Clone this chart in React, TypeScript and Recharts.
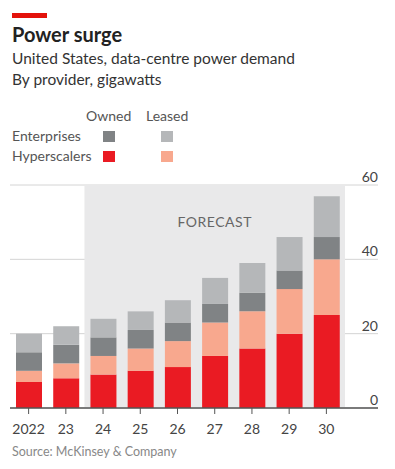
import { Bar, BarChart, CartesianGrid, ReferenceArea, XAxis, YAxis } from "recharts";

const years = ["2022", "23", "24", "25", "26", "27", "28", "29", "30"];
const hyperOwned = [7, 8, 9, 10, 11, 14, 16, 20, 25];
const hyperLeased = [3, 4, 5, 6, 7, 9, 10, 12, 15];
const entOwned = [5, 5, 5, 5, 5, 5, 5, 5, 6];
const entLeased = [5, 5, 5, 5, 6, 7, 8, 9, 11];
const yTicks = [0, 20, 40, 60];

const data = years.map((year, i) => ({
  year,
  hyperOwned: hyperOwned[i],
  hyperLeased: hyperLeased[i],
  entOwned: entOwned[i],
  entLeased: entLeased[i],
}));

const RED = "#ea1b23";
const SALMON = "#f8a88e";
const DARK_GREY = "#808385";
const LIGHT_GREY = "#b5b7b9";
const FONT = "Lato, 'Open Sans', sans-serif";

// labels sit just above their gridline, right-aligned with its end
function RightTick({ y, payload }: any) {
  return (
    <text x={378} y={y} dy={-3} textAnchor="end" fontSize={14} fill="#444" fontFamily={FONT}>
      {payload.value}
    </text>
  );
}

function Swatch({ color }: { color: string }) {
  return <div style={{ width: 12, height: 11, background: color }} />;
}

export default function App() {
  return (
    <div style={{ position: "absolute", left: 0, top: 0, width: 395, height: 469, fontFamily: FONT, background: "#fff" }}>
      <div style={{ position: "absolute", left: 12, top: 13, width: 35, height: 5, background: "#e3120b" }} />
      <div style={{ position: "absolute", left: 12, top: 22, fontSize: 20, fontWeight: 700, color: "#222" }}>
        Power surge
      </div>
      <div style={{ position: "absolute", left: 12, top: 48, fontSize: 15.5, color: "#333", lineHeight: "21px" }}>
        United States, data-centre power demand
        <br />
        By provider, gigawatts
      </div>

      <div style={{ position: "absolute", left: 86, top: 107, fontSize: 14, color: "#555" }}>Owned</div>
      <div style={{ position: "absolute", left: 146, top: 107, fontSize: 14, color: "#555" }}>Leased</div>
      <div style={{ position: "absolute", left: 12, top: 127, fontSize: 14, color: "#555" }}>Enterprises</div>
      <div style={{ position: "absolute", left: 12, top: 147, fontSize: 14, color: "#555" }}>Hyperscalers</div>
      <div style={{ position: "absolute", left: 103, top: 131 }}>
        <Swatch color={DARK_GREY} />
      </div>
      <div style={{ position: "absolute", left: 161, top: 131 }}>
        <Swatch color={LIGHT_GREY} />
      </div>
      <div style={{ position: "absolute", left: 103, top: 151 }}>
        <Swatch color={RED} />
      </div>
      <div style={{ position: "absolute", left: 161, top: 151 }}>
        <Swatch color={SALMON} />
      </div>

      <div style={{ position: "absolute", left: 0, top: 0 }}>
        <BarChart
          width={395}
          height={469}
          data={data}
          margin={{ top: 185, right: 0, bottom: 31, left: 10 }}
        >
          <ReferenceArea
            x1="24"
            x2="30"
            y1={0}
            y2={60}
            fill="#e9e9ea"
            fillOpacity={1}
            stroke="none"
            label={{
              value: "FORECAST",
              position: "insideTop",
              offset: 32,
              fill: "#666",
              fontSize: 14,
              fontFamily: FONT,
              letterSpacing: 0.5,
            }}
          />
          <CartesianGrid vertical={false} stroke="#d4d4d4" strokeWidth={1} />
          <XAxis
            dataKey="year"
            interval={0}
            height={30}
            padding={{ left: 0, right: 33 }}
            axisLine={{ stroke: "#555", strokeWidth: 1.5 }}
            tickLine={{ stroke: "#555" }}
            tickSize={6}
            tickMargin={10}
            tick={{ fontSize: 14, fill: "#444", fontFamily: FONT }}
          />
          <YAxis
            orientation="right"
            width={17}
            domain={[0, 60]}
            ticks={yTicks}
            interval={0}
            axisLine={false}
            tickLine={false}
            tick={<RightTick />}
          />
          <Bar dataKey="hyperOwned" stackId="a" fill={RED} barSize={26} isAnimationActive={false} />
          <Bar dataKey="hyperLeased" stackId="a" fill={SALMON} barSize={26} isAnimationActive={false} />
          <Bar dataKey="entOwned" stackId="a" fill={DARK_GREY} barSize={26} isAnimationActive={false} />
          <Bar dataKey="entLeased" stackId="a" fill={LIGHT_GREY} barSize={26} isAnimationActive={false} />
        </BarChart>
      </div>

      <div style={{ position: "absolute", left: 12, top: 444, fontSize: 12.5, color: "#888" }}>
        Source: McKinsey &amp; Company
      </div>
    </div>
  );
}
